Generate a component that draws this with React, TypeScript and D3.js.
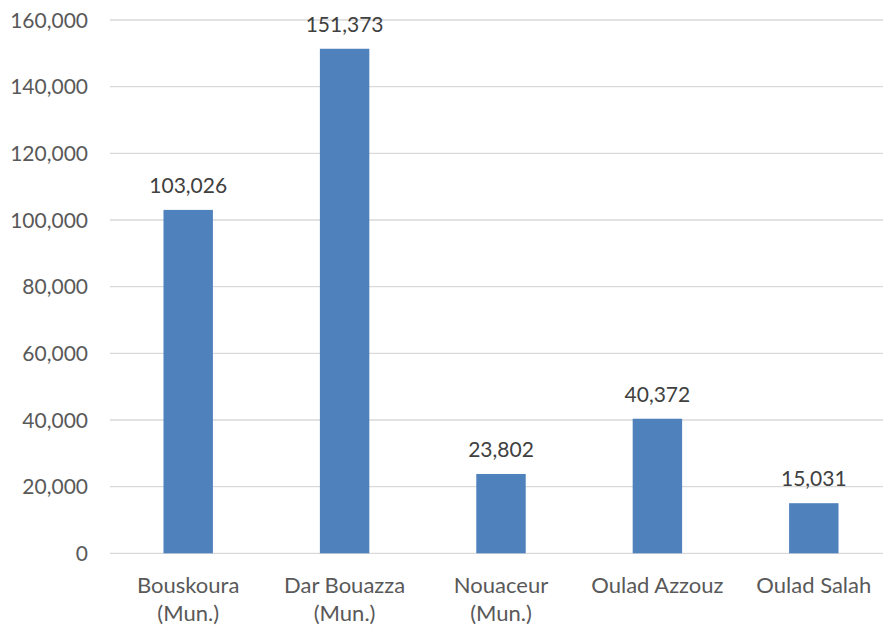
import React, { useEffect, useRef } from "react";
import * as d3 from "d3";

const categories: string[][] = [
  ["Bouskoura", "(Mun.)"],
  ["Dar Bouazza", "(Mun.)"],
  ["Nouaceur", "(Mun.)"],
  ["Oulad Azzouz"],
  ["Oulad Salah"],
];
const population = [103026, 151373, 23802, 40372, 15031];
const yTicks = [0, 20000, 40000, 60000, 80000, 100000, 120000, 140000, 160000];

const FONT = "Lato, 'Open Sans', sans-serif";

export default function App() {
  const ref = useRef<SVGSVGElement>(null);

  useEffect(() => {
    const width = 883;
    const height = 631;
    const svg = d3.select(ref.current).attr("width", width).attr("height", height);
    svg.selectAll("*").remove();

    const x = d3
      .scaleBand<number>()
      .domain(d3.range(categories.length))
      .range([110, 892])
      .paddingInner(0.684)
      .paddingOuter(0.342);

    const y = d3.scaleLinear().domain([0, 160000]).range([553.3, 20]);
    const fmt = d3.format(",");

    // gridlines
    svg
      .append("g")
      .selectAll("line")
      .data(yTicks)
      .enter()
      .append("line")
      .attr("x1", 110)
      .attr("x2", 892)
      .attr("y1", (d) => y(d))
      .attr("y2", (d) => y(d))
      .attr("stroke", "#d9d9d9")
      .attr("stroke-width", 1.3);

    // y labels
    svg
      .append("g")
      .selectAll("text")
      .data(yTicks)
      .enter()
      .append("text")
      .attr("x", 88)
      .attr("y", (d) => y(d))
      .attr("dy", "0.36em")
      .attr("text-anchor", "end")
      .attr("font-family", FONT)
      .attr("font-size", 21)
      .attr("fill", "#595959")
      .text((d) => fmt(d));

    // bars
    svg
      .append("g")
      .selectAll("rect")
      .data(population)
      .enter()
      .append("rect")
      .attr("x", (_, i) => x(i)!)
      .attr("width", x.bandwidth())
      .attr("y", (d) => y(d))
      .attr("height", (d) => y(0) - y(d))
      .attr("fill", "#4f81bd");

    // value labels
    svg
      .append("g")
      .selectAll("text")
      .data(population)
      .enter()
      .append("text")
      .attr("x", (_, i) => x(i)! + x.bandwidth() / 2)
      .attr("y", (d) => y(d) - 17)
      .attr("text-anchor", "middle")
      .attr("font-family", FONT)
      .attr("font-size", 21)
      .attr("fill", "#404040")
      .text((d) => fmt(d));

    // category labels
    const cat = svg
      .append("g")
      .selectAll("text")
      .data(categories)
      .enter()
      .append("text")
      .attr("text-anchor", "middle")
      .attr("font-family", FONT)
      .attr("font-size", 22)
      .attr("fill", "#595959");
    cat.each(function (lines, i) {
      const t = d3.select(this);
      lines.forEach((ln, j) => {
        t.append("tspan")
          .attr("x", x(i)! + x.bandwidth() / 2)
          .attr("y", 585 + j * 28)
          .attr("dy", "0.36em")
          .text(ln);
      });
    });
  }, []);

  return (
    <div style={{ position: "absolute", left: 0, top: 0 }}>
      <svg ref={ref} style={{ display: "block" }} />
    </div>
  );
}
